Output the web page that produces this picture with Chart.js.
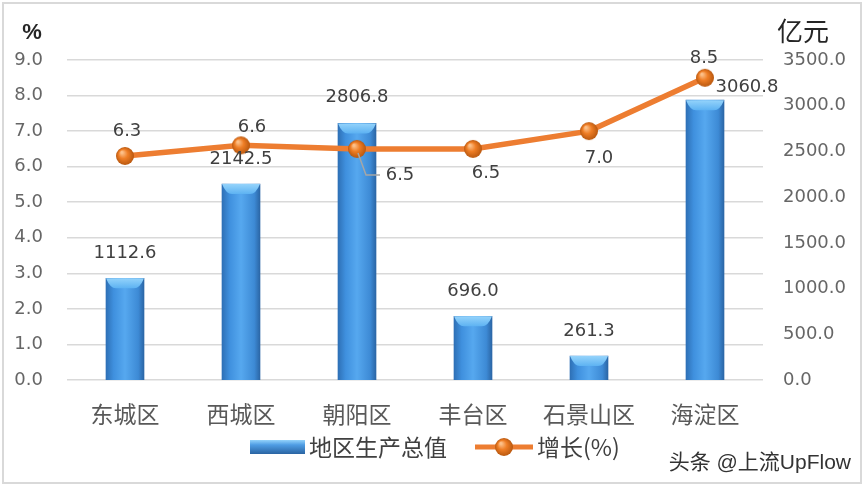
<!DOCTYPE html>
<html><head><meta charset="utf-8">
<script src="https://cdn.jsdelivr.net/npm/chart.js@4"></script>
<style>html,body{margin:0;padding:0;background:#fff;}canvas{display:block}</style>
</head><body>
<canvas id="c" width="864" height="486"></canvas>
<script>
const categories = ['东城区','西城区','朝阳区','丰台区','石景山区','海淀区'];
const gdpValues = [1112.6, 2142.5, 2806.8, 696.0, 261.3, 3060.8];
const growthValues = [6.3, 6.6, 6.5, 6.5, 7.0, 8.5];
const gdpLabel = '地区生产总值';
const growthLabel = '增长(%)';
const leftUnit = '%';
const rightUnit = '亿元';
const watermark = '头条 @上流UpFlow';

// label placement (style only)
const gdpLabelOffsets = [[0,-25],[0,-25],[0,-26],[0,-25],[0,-25],[42,-13]];
const growthLabelOffsets = [[2,-25],[11,-18],[43,26],[13,24],[10,27],[-1,-19]];
const leaderLines = [false,false,true,false,false,false];

const NUM_FONT = "'DejaVu Sans', 'Noto Sans CJK SC', sans-serif";
const CJK_FONT = "'Noto Sans CJK SC', 'DejaVu Sans', sans-serif";
const BAR_W = 38;

function sphere(r){
  const c = document.createElement('canvas');
  c.width = c.height = 2*r+2;
  const g = c.getContext('2d');
  const cx = r+1, cy = r+1;
  const grad = g.createRadialGradient(cx - r*0.35, cy - r*0.4, r*0.1, cx, cy, r);
  grad.addColorStop(0, '#FCC089');
  grad.addColorStop(0.45, '#EF7E26');
  grad.addColorStop(1, '#B9580F');
  g.fillStyle = grad;
  g.beginPath(); g.arc(cx, cy, r, 0, Math.PI*2); g.fill();
  return c;
}
const dot = sphere(9);

function barGradient(ctx, x){
  const g = ctx.createLinearGradient(x - BAR_W/2, 0, x + BAR_W/2, 0);
  g.addColorStop(0, '#2E70B6');
  g.addColorStop(0.2, '#3F90DE');
  g.addColorStop(0.5, '#56A8EF');
  g.addColorStop(0.85, '#3D8AD5');
  g.addColorStop(1, '#2B66A6');
  return g;
}

const deco = {
  id: 'deco',
  afterDatasetDraw(chart, args){
    if (args.index !== 0) return;
    const ctx = chart.ctx;
    ctx.save();
    args.meta.data.forEach(el => {
      const {x, y, width} = el.getProps(['x','y','width'], true);
      const h = Math.min(10, (chart.chartArea.bottom - y) / 2);
      const g = ctx.createLinearGradient(0, y, 0, y + h);
      g.addColorStop(0, '#94D3FB');
      g.addColorStop(1, '#5DB2F2');
      ctx.fillStyle = g;
      ctx.beginPath();
      ctx.moveTo(x - width/2, y);
      ctx.lineTo(x + width/2, y);
      ctx.quadraticCurveTo(x + width/2 - 4, y + h, x + width/2 - 10, y + h);
      ctx.lineTo(x - width/2 + 10, y + h);
      ctx.quadraticCurveTo(x - width/2 + 4, y + h, x - width/2, y);
      ctx.closePath();
      ctx.fill();
    });
    ctx.restore();
  },
  afterDraw(chart){
    const ctx = chart.ctx;
    ctx.save();
    ctx.textAlign = 'center';
    ctx.textBaseline = 'middle';
    ctx.font = '18px ' + NUM_FONT;
    ctx.fillStyle = '#404040';
    const barMeta = chart.getDatasetMeta(0);
    barMeta.data.forEach((el, i) => {
      const o = gdpLabelOffsets[i];
      ctx.fillText(gdpValues[i].toFixed(1), el.x + o[0], el.y + o[1]);
    });
    const lineMeta = chart.getDatasetMeta(1);
    lineMeta.data.forEach((el, i) => {
      const o = growthLabelOffsets[i];
      if (leaderLines[i]) {
        ctx.strokeStyle = '#A6A6A6';
        ctx.lineWidth = 1.5;
        ctx.beginPath();
        ctx.moveTo(el.x + 1, el.y + 4);
        ctx.lineTo(el.x + 9, el.y + o[1]);
        ctx.lineTo(el.x + o[0] - 20, el.y + o[1]);
        ctx.stroke();
      }
      ctx.fillText(growthValues[i].toFixed(1), el.x + o[0], el.y + o[1]);
    });

    // unit titles
    ctx.fillStyle = '#262626';
    ctx.font = 'bold 22px ' + "'Liberation Sans', sans-serif";
    ctx.fillText(leftUnit, 32, 33);
    ctx.textAlign = 'left';
    ctx.font = '26px ' + CJK_FONT;
    ctx.fillText(rightUnit, 777, 31);

    // legend
    const ly = 447;
    const bg = ctx.createLinearGradient(0, ly - 7, 0, ly + 7);
    bg.addColorStop(0, '#94D3FB');
    bg.addColorStop(0.35, '#4F9DE4');
    bg.addColorStop(1, '#2A64A2');
    ctx.fillStyle = bg;
    ctx.fillRect(250, ly - 7, 55, 14);
    ctx.fillStyle = '#404040';
    ctx.font = '23px ' + CJK_FONT;
    ctx.fillText(gdpLabel, 309, ly);
    const lx = 309 + ctx.measureText(gdpLabel).width + 28;
    ctx.strokeStyle = '#ED7D31';
    ctx.lineWidth = 5;
    ctx.beginPath(); ctx.moveTo(lx, ly); ctx.lineTo(lx + 58, ly); ctx.stroke();
    ctx.drawImage(dot, lx + 29 - dot.width/2, ly - dot.height/2);
    ctx.fillStyle = '#404040';
    ctx.fillText(growthLabel, lx + 62, ly);

    // watermark
    ctx.textAlign = 'right';
    ctx.fillStyle = '#333333';
    ctx.font = "21px 'Liberation Sans', 'Noto Sans CJK SC', sans-serif";
    ctx.fillText(watermark, 851, 463);

    // frame
    ctx.strokeStyle = '#D9D9D9';
    ctx.lineWidth = 2;
    ctx.strokeRect(3, 3, 858, 480);
    ctx.restore();
  }
};

new Chart(document.getElementById('c'), {
  type: 'bar',
  data: {
    labels: categories,
    datasets: [
      {
        type: 'bar',
        label: gdpLabel,
        data: gdpValues,
        yAxisID: 'y1',
        order: 2,
        barThickness: BAR_W,
        backgroundColor: (c) => {
          const s = c.chart.scales.x;
          if (!s || c.dataIndex === undefined) return '#4A98E0';
          const px = s.getPixelForValue(c.dataIndex);
          if (!isFinite(px)) return '#4A98E0';
          return barGradient(c.chart.ctx, px);
        },
        borderWidth: 0
      },
      {
        type: 'line',
        label: growthLabel,
        data: growthValues,
        yAxisID: 'y',
        order: 1,
        borderColor: '#ED7D31',
        borderWidth: 5.5,
        tension: 0,
        pointStyle: dot,
        pointRadius: 9,
        pointHoverRadius: 9
      }
    ]
  },
  options: {
    responsive: false,
    animation: false,
    devicePixelRatio: 1,
    layout: { padding: { top: 60, left: 0, right: 0, bottom: 0 } },
    plugins: { legend: { display: false }, tooltip: { enabled: false } },
    scales: {
      x: {
        grid: { display: false },
        border: { display: false },
        ticks: { color: '#595959', font: { family: CJK_FONT, size: 23 }, padding: 12 },
        afterFit: (s) => { s.height = 106; }
      },
      y: {
        position: 'left',
        min: 0, max: 9,
        ticks: { stepSize: 1, color: '#666666', font: { family: NUM_FONT, size: 18 }, padding: 24,
                 callback: (v) => Number(v).toFixed(1) },
        grid: { color: '#D9D9D9', lineWidth: 1.5, drawTicks: false },
        border: { display: false },
        afterFit: (s) => { s.width = 67; }
      },
      y1: {
        position: 'right',
        min: 0, max: 3500,
        ticks: { stepSize: 500, color: '#666666', font: { family: NUM_FONT, size: 18 }, padding: 20,
                 callback: (v) => Number(v).toFixed(1) },
        grid: { display: false, drawTicks: false },
        border: { display: false },
        afterFit: (s) => { s.width = 101; }
      }
    }
  },
  plugins: [deco]
});
</script>
</body></html>
